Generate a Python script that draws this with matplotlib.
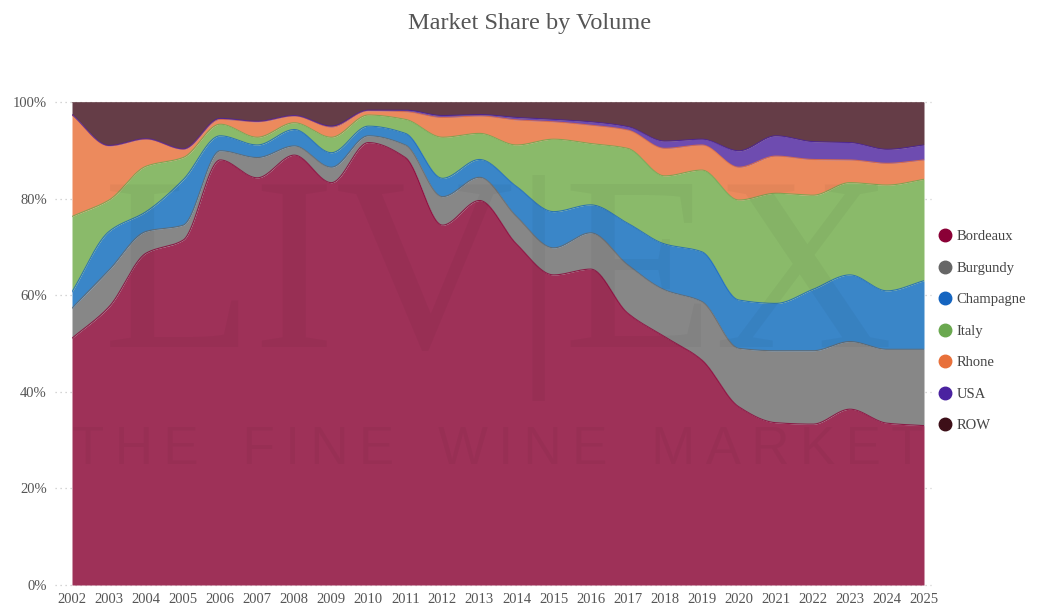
import numpy as np
import matplotlib
matplotlib.use("Agg")
import matplotlib.pyplot as plt
from matplotlib.lines import Line2D

years = list(range(2002, 2026))

# market share by volume, %
bordeaux = [51.1, 57.6, 68.7, 71.4, 88.0, 84.3, 89.0, 83.3, 91.6, 88.5, 74.5, 79.6,
            70.6, 64.2, 65.4, 56.3, 51.4, 46.6, 36.9, 33.6, 33.3, 36.4, 33.5, 33.0]
burgundy = [6.2, 7.6, 4.5, 3.1, 1.9, 4.2, 1.9, 3.2, 1.4, 2.6, 5.9, 4.8,
            5.7, 5.6, 7.5, 10.0, 9.7, 12.1, 12.1, 14.9, 15.2, 14.0, 15.3, 15.8]
champagne = [3.4, 8.0, 4.1, 9.4, 3.1, 2.6, 3.4, 3.0, 2.0, 2.4, 3.8, 3.7,
             6.2, 7.5, 5.8, 8.6, 9.5, 10.3, 10.0, 9.8, 12.7, 13.8, 12.1, 14.2]
italy = [15.6, 6.5, 9.4, 4.6, 2.4, 1.6, 1.4, 3.2, 2.3, 2.9, 8.5, 5.4,
         8.6, 15.0, 12.7, 15.5, 14.1, 16.9, 20.7, 22.8, 19.5, 19.1, 21.9, 21.0]
rhone = [21.0, 11.2, 5.6, 1.7, 1.0, 3.2, 1.4, 2.1, 0.9, 1.6, 4.1, 3.6,
         5.2, 3.6, 3.8, 3.8, 5.7, 5.2, 6.8, 7.7, 7.4, 4.7, 4.5, 4.0]
usa = [0.1, 0.1, 0.1, 0.1, 0.2, 0.1, 0.1, 0.2, 0.1, 0.3, 0.4, 0.3,
       0.5, 0.5, 0.7, 0.7, 1.5, 1.2, 3.4, 4.2, 3.7, 3.6, 2.9, 3.1]
row = [2.6, 9.0, 7.6, 9.7, 3.4, 4.0, 2.8, 5.0, 1.7, 1.7, 2.8, 2.6,
       3.2, 3.6, 4.1, 5.1, 8.1, 7.7, 10.1, 7.0, 8.2, 8.4, 9.8, 8.9]

names = ["Bordeaux", "Burgundy", "Champagne", "Italy", "Rhone", "USA", "ROW"]
series = [bordeaux, burgundy, champagne, italy, rhone, usa, row]
fills = ["#9e3158", "#878787", "#3a86c8", "#8aba6a", "#ec8a5d", "#6e4cb0", "#653d47"]
dots = ["#8a0036", "#666666", "#1565c0", "#6aa84f", "#e8703a", "#4a22a0", "#3d0f18"]


def monotone(x, y, xs):
    # monotone cubic (Fritsch-Carlson), like d3 curveMonotoneX
    x = np.asarray(x, float)
    y = np.asarray(y, float)
    h = np.diff(x)
    d = np.diff(y) / h
    m = np.zeros_like(y)
    m[0], m[-1] = d[0], d[-1]
    for i in range(1, len(y) - 1):
        if d[i - 1] * d[i] <= 0:
            m[i] = 0
        else:
            m[i] = 2 / (1 / d[i - 1] + 1 / d[i])
    idx = np.clip(np.searchsorted(x, xs) - 1, 0, len(x) - 2)
    t = (xs - x[idx]) / h[idx]
    h00 = 2 * t**3 - 3 * t**2 + 1
    h10 = t**3 - 2 * t**2 + t
    h01 = -2 * t**3 + 3 * t**2
    h11 = t**3 - t**2
    return h00 * y[idx] + h10 * h[idx] * m[idx] + h01 * y[idx + 1] + h11 * h[idx] * m[idx + 1]


vals = np.array(series)
vals = vals / vals.sum(axis=0) * 100
cum = np.cumsum(vals, axis=0)

xs = np.linspace(years[0], years[-1], 1200)
tops = [monotone(years, c, xs) for c in cum]
tops[-1] = np.full_like(xs, 100.0)

fig = plt.figure(figsize=(10.37, 6.06), dpi=100)
ax = fig.add_axes([72 / 1037, 1 - 585 / 606, (924 - 72) / 1037, (585 - 102) / 606])

for g in range(0, 101, 20):
    ax.plot([2001.55, 2025.2], [g, g], ls=(0, (1, 3)), color="#c8c8c8", lw=0.9,
            clip_on=False, zorder=0)

prev = np.zeros_like(xs)
for top, fc, dc in zip(tops, fills, dots):
    ax.fill_between(xs, prev, top, color=fc, lw=0, zorder=2)
    ax.plot(xs, top, color=dc, lw=0.8, alpha=0.8, zorder=3)
    prev = top

# faint watermark
ax.text(0.5, 0.615, "LIV|EX", transform=ax.transAxes, ha="center", va="center",
        fontsize=178, family="Liberation Serif", color="black", alpha=0.035, zorder=4)
ax.text(0.5, 0.28, "\u2009".join("THE FINE WINE MARKET").replace("\u2009 \u2009", "   "),
        transform=ax.transAxes, ha="center", va="center", fontsize=38,
        family="Liberation Sans", color="black", alpha=0.035, zorder=4)

ax.set_xlim(years[0], years[-1])
ax.set_ylim(0, 100)
ax.set_xticks(years)
ax.set_xticklabels([str(y) for y in years])
ax.set_yticks(range(0, 101, 20))
ax.set_yticklabels([f"{g}%" for g in range(0, 101, 20)])
ax.tick_params(length=0, labelsize=10.5, labelcolor="#555555", pad=6)
ax.tick_params(axis="y", pad=18)
for lab in ax.get_xticklabels() + ax.get_yticklabels():
    lab.set_family("Liberation Serif")
for s in ax.spines.values():
    s.set_visible(False)

fig.text(530 / 1037, 1 - 24 / 606, "Market Share by Volume", ha="center", va="center",
         fontsize=17.5, family="Liberation Serif", color="#555555")

handles = [Line2D([], [], marker="o", ls="", markersize=9, color=c) for c in dots]
fig.legend(handles, names, loc="upper left", bbox_to_anchor=(923 / 1037, 1 - 223 / 606),
           frameon=False, handletextpad=-0.2, labelspacing=1.25, borderpad=0,
           prop={"family": "Liberation Serif", "size": 10.5}, labelcolor="#444444")

fig.savefig("out.png", dpi=100)
